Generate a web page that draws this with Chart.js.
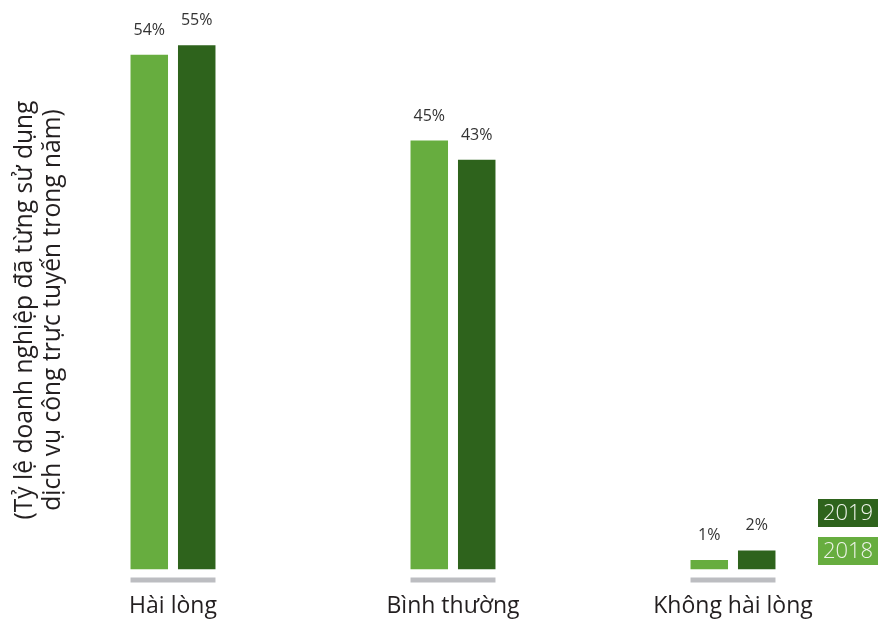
<!DOCTYPE html>
<html>
<head>
<meta charset="utf-8">
<script src="https://cdn.jsdelivr.net/npm/chart.js@4"></script>
<style>
  html, body { margin: 0; padding: 0; background: #ffffff; }
  #wrap { width: 878px; height: 620px; position: relative; }
</style>
</head>
<body>
<div id="wrap"><canvas id="c" width="878" height="620"></canvas></div>
<script>
// Categories and yearly shares (%)
const categories = ['Hài lòng', 'Bình thường', 'Không hài lòng'];
const values2018 = [54, 45, 1];
const values2019 = [55, 43, 2];
const seriesLabels = ['2018', '2019'];
const axisTitle = ['(Tỷ lệ doanh nghiệp đã từng sử dụng', 'dịch vụ công trực tuyến trong năm)'];

const LIGHT = '#67ad3f';
const DARK = '#2e631c';
const FONT = '"Open Sans", "Noto Sans", sans-serif';

// Percent labels above each bar
const valueLabels = {
  id: 'valueLabels',
  afterDatasetsDraw(chart) {
    const ctx = chart.ctx;
    ctx.save();
    ctx.font = '16px ' + FONT;
    ctx.fillStyle = '#333333';
    ctx.textAlign = 'center';
    ctx.textBaseline = 'alphabetic';
    chart.data.datasets.forEach((ds, di) => {
      chart.getDatasetMeta(di).data.forEach((bar, i) => {
        ctx.fillText(ds.data[i] + '%', bar.x, bar.y - 20);
      });
    });
    ctx.restore();
  }
};

// Grey base strip under each pair of bars
const baseStrips = {
  id: 'baseStrips',
  afterDatasetsDraw(chart) {
    const ctx = chart.ctx;
    const a = chart.getDatasetMeta(0).data;
    const b = chart.getDatasetMeta(1).data;
    ctx.save();
    ctx.fillStyle = '#bcbdc1';
    a.forEach((bar, i) => {
      const left = bar.x - bar.width / 2;
      const right = b[i].x + b[i].width / 2;
      ctx.fillRect(left, chart.chartArea.bottom + 8, right - left, 5);
    });
    ctx.restore();
  }
};

// Rotated two-line axis title on the left
const sideTitle = {
  id: 'sideTitle',
  afterDraw(chart) {
    const ctx = chart.ctx;
    ctx.save();
    ctx.translate(25, 310);
    ctx.rotate(-Math.PI / 2);
    ctx.font = '24.6px ' + FONT;
    ctx.fillStyle = '#231f20';
    ctx.textAlign = 'center';
    ctx.textBaseline = 'middle';
    ctx.fillText(axisTitle[0], 0, 0);
    ctx.fillText(axisTitle[1], 0, 28);
    ctx.restore();
  }
};

// Coloured year boxes, bottom right
const yearBoxes = {
  id: 'yearBoxes',
  afterDraw(chart) {
    const ctx = chart.ctx;
    const items = [
      { text: chart.data.datasets[1].label, color: chart.data.datasets[1].backgroundColor, y: 499 },
      { text: chart.data.datasets[0].label, color: chart.data.datasets[0].backgroundColor, y: 537 }
    ];
    ctx.save();
    ctx.font = '300 22px ' + FONT;
    ctx.textAlign = 'center';
    ctx.textBaseline = 'middle';
    items.forEach(it => {
      ctx.fillStyle = it.color;
      ctx.fillRect(818, it.y, 60, 28);
      ctx.fillStyle = '#eef3ea';
      ctx.fillText(it.text, 848, it.y + 15);
    });
    ctx.restore();
  }
};

new Chart(document.getElementById('c'), {
  type: 'bar',
  data: {
    labels: categories,
    datasets: [
      { label: seriesLabels[0], data: values2018, backgroundColor: LIGHT,
        categoryPercentage: 0.339, barPercentage: 0.79 },
      { label: seriesLabels[1], data: values2019, backgroundColor: DARK,
        categoryPercentage: 0.339, barPercentage: 0.79 }
    ]
  },
  options: {
    responsive: false,
    animation: false,
    layout: { padding: { left: 33, right: 5, top: 0, bottom: 0 } },
    plugins: {
      legend: { display: false },
      tooltip: { enabled: false }
    },
    scales: {
      x: {
        grid: { display: false, drawTicks: false },
        border: { display: false },
        ticks: { color: '#231f20', font: { family: FONT, size: 23 }, padding: 23 },
        afterFit(scale) { scale.height = 50.5; }
      },
      y: {
        display: false,
        min: 0,
        max: 59.75
      }
    }
  },
  plugins: [valueLabels, baseStrips, sideTitle, yearBoxes]
});
</script>
</body>
</html>
